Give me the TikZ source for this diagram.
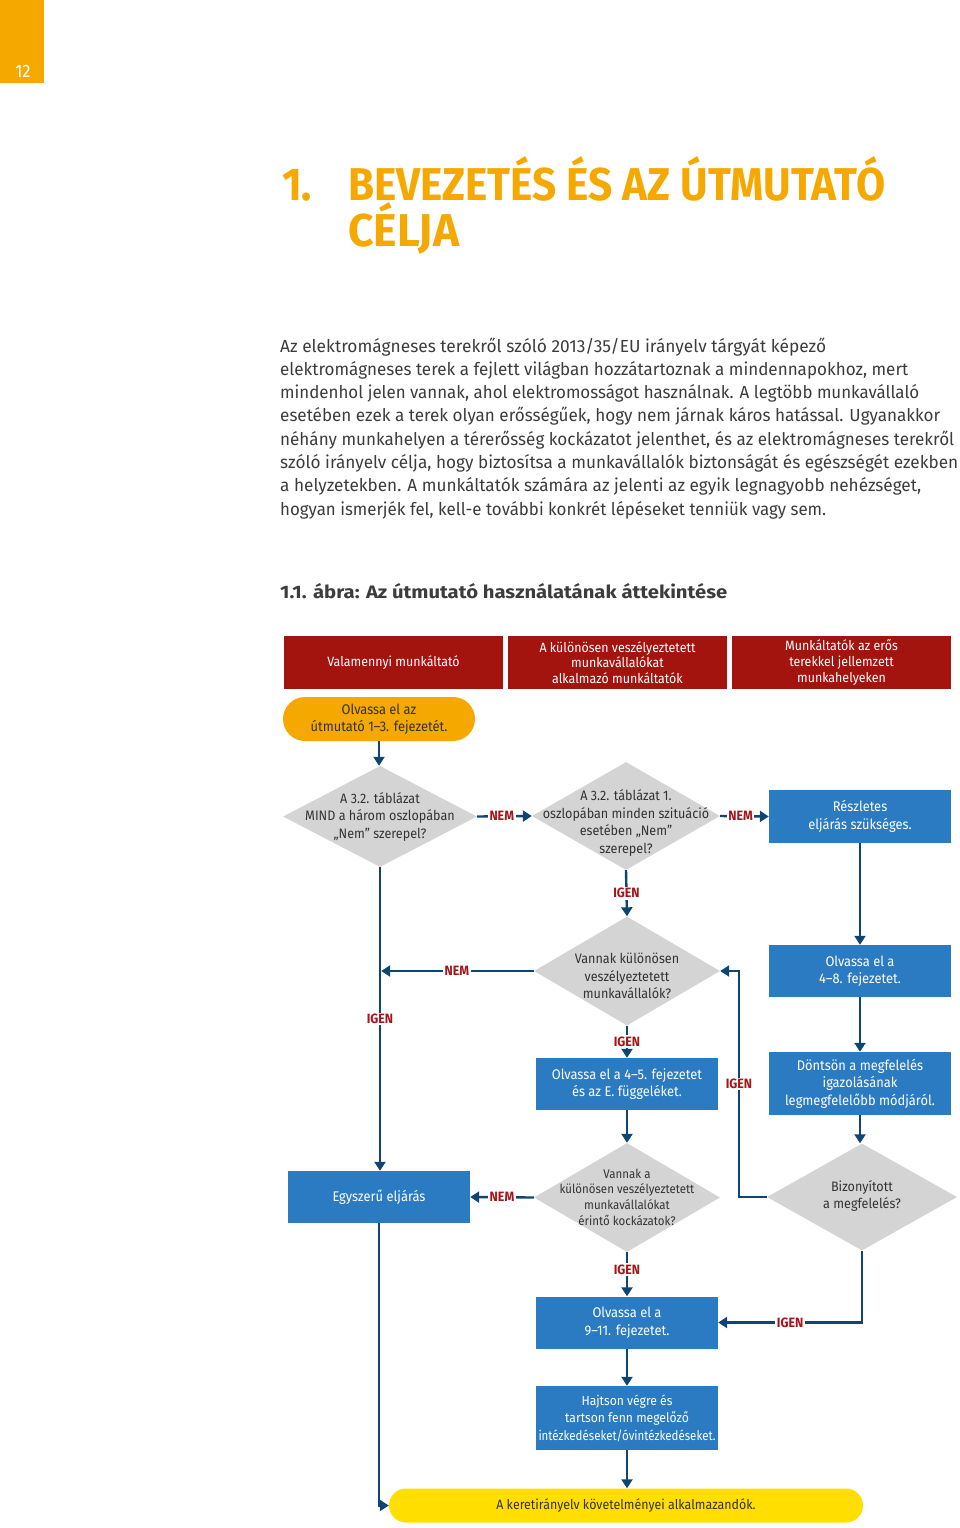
\documentclass[tikz,border=0pt]{standalone}
\usepackage{fontspec}
\usepackage{graphicx}
\setmainfont{Fira Sans}[FakeStretch=0.92]
\usetikzlibrary{arrows.meta,shapes.geometric}
\definecolor{eorange}{HTML}{F5A800}
\definecolor{ered}{HTML}{A3140F}
\definecolor{eblue}{HTML}{2B7BC3}
\definecolor{egrey}{HTML}{D4D4D4}
\definecolor{enavy}{HTML}{0F4573}
\definecolor{elabel}{HTML}{A3161A}
\definecolor{eyellow}{HTML}{FFDE00}
\definecolor{etext}{HTML}{3C3C3C}
\definecolor{dtextc}{HTML}{333333}
\newcommand\pline[4]{\node[anchor=base west, inner sep=0pt, text=etext, font=\fontsize{17.5}{20}\selectfont] (#1) at (280,#2) {\resizebox{#3pt}{\height}{#4}};}
\begin{document}
\begin{tikzpicture}[x=1pt,y=-1pt,
  hdr/.style={rectangle, fill=ered, text=white, minimum width=219pt, minimum height=53pt, inner sep=0pt, align=center, font=\fontsize{13.5}{15.8}\selectfont},
  bbox/.style={rectangle, fill=eblue, text=white, minimum width=182pt, minimum height=52pt, inner sep=0pt, align=center, font=\fontsize{14}{17.5}\selectfont},
  dec/.style={diamond, fill=egrey, inner sep=0pt, minimum width=188pt, minimum height=108pt},
  dtext/.style={inner sep=0pt, align=center, text=dtextc, font=\fontsize{13.7}{17.5}\selectfont},
  conn/.style={draw=enavy, line width=2.4pt},
  arr/.style={conn, -{Triangle[length=9pt,width=11pt]}},
  lbl/.style={fill=white, text=elabel, inner sep=1.5pt, font=\fontsize{13.5}{14}\selectfont\bfseries}
]
\useasboundingbox (0,0) rectangle (960,1528);
% page tab
\node[fill=eorange, minimum width=44pt, minimum height=83pt, inner sep=0pt, anchor=north west] (tab) at (0,0) {};
\node[text=white, inner sep=0pt, font=\fontsize{18}{18}\selectfont] (pg) at (23,71.5) {12};
% title
\node[anchor=base west, inner sep=0pt, text=eorange, font=\fontsize{46}{50}\selectfont\bfseries] (t0) at (282,200) {\resizebox{30pt}{\height}{1.}};
\node[anchor=base west, inner sep=0pt, text=eorange, font=\fontsize{46}{50}\selectfont\bfseries] (t1) at (348,200) {\resizebox{537pt}{\height}{BEVEZETÉS ÉS AZ ÚTMUTATÓ}};
\node[anchor=base west, inner sep=0pt, text=eorange, font=\fontsize{46}{50}\selectfont\bfseries] (t2) at (348,246) {\resizebox{111pt}{\height}{CÉLJA}};
% paragraph
\pline{p1}{352}{546}{Az elektromágneses terekről szóló 2013/35/EU irányelv tárgyát képező}
\pline{p2}{375.3}{628}{elektromágneses terek a fejlett világban hozzátartoznak a mindennapokhoz, mert}
\pline{p3}{398.6}{639}{mindenhol jelen vannak, ahol elektromosságot használnak. A legtöbb munkavállaló}
\pline{p4}{421.9}{660}{esetében ezek a terek olyan erősségűek, hogy nem járnak káros hatással. Ugyanakkor}
\pline{p5}{445.2}{674}{néhány munkahelyen a térerősség kockázatot jelenthet, és az elektromágneses terekről}
\pline{p6}{468.5}{678}{szóló irányelv célja, hogy biztosítsa a munkavállalók biztonságát és egészségét ezekben}
\pline{p7}{491.8}{641}{a helyzetekben. A munkáltatók számára az jelenti az egyik legnagyobb nehézséget,}
\pline{p8}{515.1}{546}{hogyan ismerjék fel, kell-e további konkrét lépéseket tenniük vagy sem.}
% caption
\node[anchor=base west, inner sep=0pt, text=etext, font=\fontsize{18}{20}\selectfont\bfseries] (cap) at (280,598) {\resizebox{447pt}{\height}{1.1. ábra: Az útmutató használatának áttekintése}};
% header boxes
\node[hdr] (h1) at (393.5,662.5) {Valamennyi munkáltató};
\node[hdr] (h2) at (617.5,662.5) {A különösen veszélyeztetett\\munkavállalókat\\alkalmazó munkáltatók};
\node[hdr] (h3) at (841.5,662.5) {Munkáltatók az erős\\terekkel jellemzett\\munkahelyeken};
% orange pill
\node[fill=eorange, rounded corners=22pt, minimum width=192pt, minimum height=44pt, inner sep=0pt, align=center, text=dtextc, font=\fontsize{14}{17.5}\selectfont] (pill) at (379,719) {Olvassa el az\\útmutató 1–3. fejezetét.};
% diamonds
\node[dec, minimum width=194pt, minimum height=101pt] (d1) at (380,816.5) {};
\node[dtext] (d1t) at (380,816.5) {A 3.2. táblázat\\MIND a három oszlopában\\„Nem” szerepel?};
\node[dec] (d2) at (626,816) {};
\node[dtext] (d2t) at (626,823) {A 3.2. táblázat 1.\\oszlopában minden szituáció\\esetében „Nem”\\szerepel?};
\node[dec, minimum width=186pt, minimum height=109pt] (d3) at (627,971) {};
\node[dtext] (d3t) at (627,976) {Vannak különösen\\veszélyeztetett\\munkavállalók?};
\node[dec, minimum width=186pt, minimum height=109pt] (d4) at (627,1197.5) {};
\node[dtext, font=\fontsize{12.5}{15.7}\selectfont] (d4t) at (627,1197) {Vannak a\\különösen veszélyeztetett\\munkavállalókat\\érintő kockázatok?};
\node[dec, minimum width=190pt, minimum height=107pt] (d5) at (862,1197) {};
\node[dtext] (d5t) at (862,1196) {Bizonyított\\a megfelelés?};
% blue boxes
\node[bbox, minimum height=53pt] (rb) at (860,816.5) {Részletes\\eljárás szükséges.};
\node[bbox] (b48) at (860,971) {Olvassa el a\\4–8. fejezetet.};
\node[bbox, minimum height=63pt] (bd) at (860,1083.5) {Döntsön a megfelelés\\igazolásának\\legmegfelelőbb módjáról.};
\node[bbox] (b45) at (627,1084) {Olvassa el a 4–5. fejezetet\\és az E. függeléket.};
\node[bbox] (eb) at (379,1197) {Egyszerű eljárás};
\node[bbox] (b911) at (627,1322.5) {Olvassa el a\\9–11. fejezetet.};
\node[bbox, minimum height=64pt, font=\fontsize{13.2}{17.5}\selectfont] (bh) at (627,1418) {Hajtson végre és\\tartson fenn megelőző\\\resizebox{177pt}{\height}{intézkedéseket/óvintézkedéseket.}};
% yellow pill
\node[fill=eyellow, rounded corners=17pt, minimum width=474pt, minimum height=34pt, inner sep=0pt, text=dtextc, font=\fontsize{13.5}{15}\selectfont] (yp) at (626,1505.5) {A keretirányelv követelményei alkalmazandók.};
% connectors
\draw[arr] (pill.south) -- (pill.south |- d1.north);
\draw[arr] (d1.east) -- node[lbl, pos=0.45]{NEM} (d2.west);
\draw[arr] (d2.east) -- node[lbl, pos=0.42]{NEM} (rb.west);
\draw[arr] (d2.south) -- node[lbl]{IGEN} (d3.north);
\draw[arr] (d1.south) -- node[lbl]{IGEN} (d1.south |- eb.north);
\draw[arr, shorten >=1.2pt] (d3.west) -- node[lbl]{NEM} (d3.west -| d1.south);
\draw[arr] (d3.south) -- node[lbl]{IGEN} (b45.north);
\draw[arr] (b45.south) -- (d4.north);
\draw[arr] (d4.west) -- node[lbl]{NEM} (eb.east);
\draw[arr] (d4.south) -- node[lbl, pos=0.4]{IGEN} (b911.north);
\draw[arr] (b911.south) -- (bh.north);
\draw[arr] (bh.south) -- (bh.south |- yp.north);
\draw[arr] (eb.south) |- (yp.west);
\draw[arr] (rb.south) -- (b48.north);
\draw[arr] (b48.south) -- (bd.north);
\draw[arr] (bd.south) -- (bd.south |- d5.north);
\coordinate (k1) at (739,1197);
\draw[arr] (d5.west) -- (k1) |- node[lbl, pos=0.25]{IGEN} (d3.east);
\draw[arr] (d5.south) |- node[lbl, pos=0.75]{IGEN} (b911.east);
\end{tikzpicture}
\end{document}
